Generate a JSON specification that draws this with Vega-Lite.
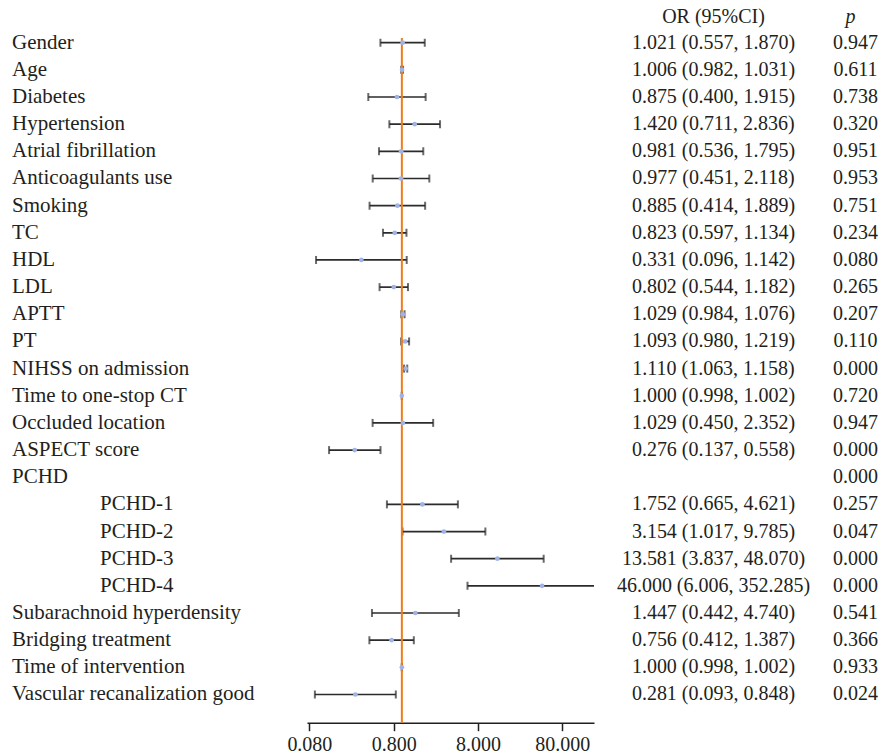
{
  "$schema": "https://vega.github.io/schema/vega-lite/v6.json",
  "padding": {"left": 0, "top": 7, "right": 0, "bottom": 0},
  "background": "white",
  "spacing": 0,
  "bounds": "flush",
  "datasets": {
    "rows": [
      {"name": "Gender", "level": 0, "or": 1.021, "lo": 0.557, "hi": 1.870, "ci": "1.021 (0.557, 1.870)", "p": "0.947"},
      {"name": "Age", "level": 0, "or": 1.006, "lo": 0.982, "hi": 1.031, "ci": "1.006 (0.982, 1.031)", "p": "0.611"},
      {"name": "Diabetes", "level": 0, "or": 0.875, "lo": 0.400, "hi": 1.915, "ci": "0.875 (0.400, 1.915)", "p": "0.738"},
      {"name": "Hypertension", "level": 0, "or": 1.420, "lo": 0.711, "hi": 2.836, "ci": "1.420 (0.711, 2.836)", "p": "0.320"},
      {"name": "Atrial fibrillation", "level": 0, "or": 0.981, "lo": 0.536, "hi": 1.795, "ci": "0.981 (0.536, 1.795)", "p": "0.951"},
      {"name": "Anticoagulants use", "level": 0, "or": 0.977, "lo": 0.451, "hi": 2.118, "ci": "0.977 (0.451, 2.118)", "p": "0.953"},
      {"name": "Smoking", "level": 0, "or": 0.885, "lo": 0.414, "hi": 1.889, "ci": "0.885 (0.414, 1.889)", "p": "0.751"},
      {"name": "TC", "level": 0, "or": 0.823, "lo": 0.597, "hi": 1.134, "ci": "0.823 (0.597, 1.134)", "p": "0.234"},
      {"name": "HDL", "level": 0, "or": 0.331, "lo": 0.096, "hi": 1.142, "ci": "0.331 (0.096, 1.142)", "p": "0.080"},
      {"name": "LDL", "level": 0, "or": 0.802, "lo": 0.544, "hi": 1.182, "ci": "0.802 (0.544, 1.182)", "p": "0.265"},
      {"name": "APTT", "level": 0, "or": 1.029, "lo": 0.984, "hi": 1.076, "ci": "1.029 (0.984, 1.076)", "p": "0.207"},
      {"name": "PT", "level": 0, "or": 1.093, "lo": 0.980, "hi": 1.219, "ci": "1.093 (0.980, 1.219)", "p": "0.110"},
      {"name": "NIHSS on admission", "level": 0, "or": 1.110, "lo": 1.063, "hi": 1.158, "ci": "1.110 (1.063, 1.158)", "p": "0.000"},
      {"name": "Time to one-stop CT", "level": 0, "or": 1.000, "lo": 0.998, "hi": 1.002, "ci": "1.000 (0.998, 1.002)", "p": "0.720"},
      {"name": "Occluded location", "level": 0, "or": 1.029, "lo": 0.450, "hi": 2.352, "ci": "1.029 (0.450, 2.352)", "p": "0.947"},
      {"name": "ASPECT score", "level": 0, "or": 0.276, "lo": 0.137, "hi": 0.558, "ci": "0.276 (0.137, 0.558)", "p": "0.000"},
      {"name": "PCHD", "level": 0, "or": null, "lo": null, "hi": null, "ci": "", "p": "0.000"},
      {"name": "PCHD-1", "level": 1, "or": 1.752, "lo": 0.665, "hi": 4.621, "ci": "1.752 (0.665, 4.621)", "p": "0.257"},
      {"name": "PCHD-2", "level": 1, "or": 3.154, "lo": 1.017, "hi": 9.785, "ci": "3.154 (1.017, 9.785)", "p": "0.047"},
      {"name": "PCHD-3", "level": 1, "or": 13.581, "lo": 3.837, "hi": 48.070, "ci": "13.581 (3.837, 48.070)", "p": "0.000"},
      {"name": "PCHD-4", "level": 1, "or": 46.000, "lo": 6.006, "hi": 352.285, "ci": "46.000 (6.006, 352.285)", "p": "0.000"},
      {"name": "Subarachnoid hyperdensity", "level": 0, "or": 1.447, "lo": 0.442, "hi": 4.740, "ci": "1.447 (0.442, 4.740)", "p": "0.541"},
      {"name": "Bridging treatment", "level": 0, "or": 0.756, "lo": 0.412, "hi": 1.387, "ci": "0.756 (0.412, 1.387)", "p": "0.366"},
      {"name": "Time of intervention", "level": 0, "or": 1.000, "lo": 0.998, "hi": 1.002, "ci": "1.000 (0.998, 1.002)", "p": "0.933"},
      {"name": "Vascular recanalization good", "level": 0, "or": 0.281, "lo": 0.093, "hi": 0.848, "ci": "0.281 (0.093, 0.848)", "p": "0.024"}
    ]
  },
  "data": {"name": "rows"},
  "config": {
    "view": {"stroke": null},
    "font": "Liberation Serif",
    "text": {"font": "Liberation Serif", "color": "#231f20"},
    "title": {"fontSize": 20, "fontWeight": "normal", "font": "Liberation Serif", "color": "#231f20", "anchor": "middle", "frame": "group", "offset": 5.5}
  },
  "hconcat": [
    {
      "width": 307,
      "height": 684.7,
      "mark": {"type": "text", "align": "left", "baseline": "middle", "fontSize": 21},
      "encoding": {
        "y": {"field": "name", "type": "nominal", "sort": null, "axis": null, "scale": {"type": "point", "padding": 0.606, "align": 0.143}},
        "x": {"field": "level", "type": "quantitative", "axis": null, "scale": {"domain": [0, 1], "range": [12, 100]}},
        "text": {"field": "name"}
      }
    },
    {
      "width": 287,
      "height": 684.7,
      "layer": [
        {
          "mark": {"type": "rule", "color": "#2b2b2b", "strokeWidth": 1.7, "clip": true},
          "encoding": {
            "y": {"field": "name", "type": "nominal", "sort": null, "axis": null, "scale": {"type": "point", "padding": 0.606, "align": 0.143, "domain": ["Gender", "Age", "Diabetes", "Hypertension", "Atrial fibrillation", "Anticoagulants use", "Smoking", "TC", "HDL", "LDL", "APTT", "PT", "NIHSS on admission", "Time to one-stop CT", "Occluded location", "ASPECT score", "PCHD", "PCHD-1", "PCHD-2", "PCHD-3", "PCHD-4", "Subarachnoid hyperdensity", "Bridging treatment", "Time of intervention", "Vascular recanalization good"]}},
            "x": {"field": "lo", "type": "quantitative", "title": null,
              "scale": {"type": "log", "domain": [0.075, 190], "nice": false},
              "axis": {"values": [0.08, 0.8, 8, 80], "format": ".3f", "grid": false, "domainColor": "#231f20", "domainWidth": 1.5, "tickColor": "#231f20", "tickWidth": 1.5, "tickSize": 8, "labelFontSize": 20, "labelFont": "Liberation Serif", "labelColor": "#231f20", "labelPadding": 4, "labelFlush": false, "labelOverlap": false, "title": null}},
            "x2": {"field": "hi"}
          }
        },
        {
          "mark": {"type": "tick", "orient": "vertical", "size": 8, "thickness": 2, "color": "#2b2b2b", "clip": true},
          "encoding": {
            "y": {"field": "name", "type": "nominal", "sort": null},
            "x": {"field": "lo", "type": "quantitative", "title": null}
          }
        },
        {
          "mark": {"type": "tick", "orient": "vertical", "size": 8, "thickness": 2, "color": "#2b2b2b", "clip": true},
          "encoding": {
            "y": {"field": "name", "type": "nominal", "sort": null},
            "x": {"field": "hi", "type": "quantitative", "title": null}
          }
        },
        {
          "data": {"values": [{"ref": 1}]},
          "mark": {"type": "rule", "color": "#f07c1c", "strokeWidth": 2},
          "encoding": {"x": {"field": "ref", "type": "quantitative", "title": null}}
        },
        {
          "mark": {"type": "point", "shape": "circle", "filled": true, "size": 22, "color": "#9fb4e6", "opacity": 1},
          "encoding": {
            "y": {"field": "name", "type": "nominal", "sort": null},
            "x": {"field": "or", "type": "quantitative", "title": null}
          }
        }
      ]
    },
    {
      "width": 239,
      "height": 684.7,
      "title": {"text": "OR (95%CI)"},
      "mark": {"type": "text", "align": "center", "baseline": "middle", "fontSize": 20},
      "encoding": {
        "y": {"field": "name", "type": "nominal", "sort": null, "axis": null, "scale": {"type": "point", "padding": 0.606, "align": 0.143}},
        "text": {"field": "ci"}
      }
    },
    {
      "width": 45,
      "height": 684.7,
      "title": {"text": "p", "fontStyle": "italic", "dx": -5},
      "mark": {"type": "text", "align": "center", "baseline": "middle", "fontSize": 20},
      "encoding": {
        "y": {"field": "name", "type": "nominal", "sort": null, "axis": null, "scale": {"type": "point", "padding": 0.606, "align": 0.143}},
        "text": {"field": "p"}
      }
    }
  ]
}
